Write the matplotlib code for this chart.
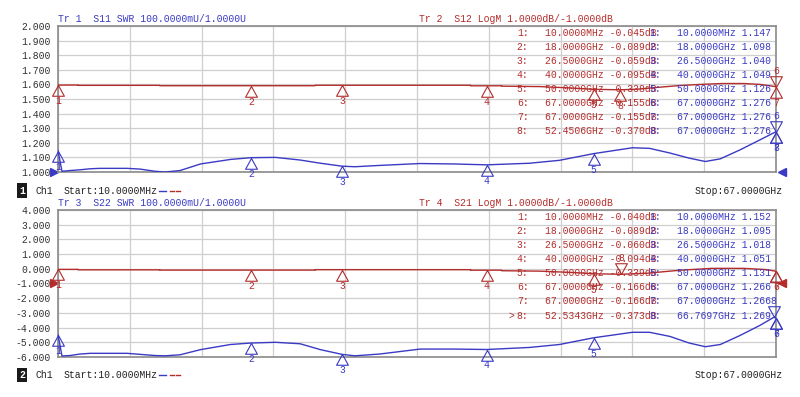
import numpy as np
import matplotlib
matplotlib.use('Agg')
import matplotlib.pyplot as plt
from matplotlib.path import Path

# ---- trace data (frequency in GHz) ----
s11_f = [0.01, 0.38, 1.13, 2.06, 3.0, 3.93, 6.45, 7.66, 9.06, 10.0, 11.4, 13.3, 16.1, 18.0,
         20.3, 22.6, 24.5, 26.5, 27.7, 30.0, 33.8, 37.0, 40.0, 44.0, 46.8, 50.0, 53.6,
         55.2, 57.1, 58.9, 60.4, 61.8, 63.6, 65.5, 67.0]
s11_swr = [1.147, 1.005, 1.010, 1.015, 1.022, 1.025, 1.025, 1.020, 1.005, 1.000, 1.010, 1.055,
           1.086, 1.098, 1.100, 1.082, 1.060, 1.040, 1.036, 1.045, 1.058, 1.055, 1.049, 1.060,
           1.080, 1.126, 1.166, 1.162, 1.130, 1.095, 1.072, 1.090, 1.150, 1.220, 1.276]

s12_f = [0.01, 1.9, 1.9, 9.5, 9.5, 18.0, 24.0, 24.0, 38.5, 38.5, 41.4, 41.4, 45.0, 48.0,
         50.0, 52.45, 54.0, 56.0, 58.0, 60.0, 62.0, 64.0, 65.5, 67.0]
s12_db = [-0.045, -0.045, -0.065, -0.065, -0.089, -0.089, -0.089, -0.059, -0.059, -0.095,
          -0.095, -0.120, -0.150, -0.250, -0.338, -0.370, -0.330, -0.200, -0.080, 0.000,
          0.060, 0.060, 0.000, -0.155]

s22_f = [0.01, 0.38, 1.13, 2.06, 3.0, 3.93, 6.45, 7.66, 9.06, 10.0, 11.4, 13.3, 16.1, 18.0,
         20.3, 22.6, 24.5, 26.5, 27.7, 30.0, 33.8, 37.0, 40.0, 44.0, 46.8, 50.0, 53.6,
         55.2, 57.1, 58.9, 60.4, 61.8, 63.6, 65.5, 66.77, 67.0]
s22_swr = [1.152, 1.007, 1.010, 1.020, 1.025, 1.025, 1.025, 1.018, 1.010, 1.008, 1.015, 1.050,
           1.085, 1.095, 1.100, 1.090, 1.050, 1.018, 1.008, 1.020, 1.054, 1.054, 1.051, 1.065,
           1.085, 1.131, 1.168, 1.168, 1.140, 1.095, 1.070, 1.085, 1.145, 1.215, 1.269, 1.266]

s21_f = [0.01, 1.9, 1.9, 9.5, 9.5, 18.0, 24.0, 24.0, 38.5, 38.5, 41.4, 41.4, 45.0, 48.0,
         50.0, 52.53, 55.0, 58.0, 61.0, 64.0, 66.0, 67.0]
s21_db = [-0.040, -0.040, -0.070, -0.070, -0.089, -0.089, -0.089, -0.060, -0.060, -0.094,
          -0.094, -0.130, -0.160, -0.250, -0.339, -0.373, -0.300, -0.100, 0.030, 0.030,
          -0.050, -0.166]

# ---- marker readouts ----
s12_mk_f = [0.01, 18.0, 26.5, 40.0, 50.0, 67.0, 67.0, 52.4506]
s12_mk_v = [-0.045, -0.089, -0.059, -0.095, -0.338, -0.155, -0.155, -0.370]
s11_mk_f = [0.01, 18.0, 26.5, 40.0, 50.0, 67.0, 67.0, 67.0]
s11_mk_v = [1.147, 1.098, 1.040, 1.049, 1.126, 1.276, 1.276, 1.276]
s21_mk_f = [0.01, 18.0, 26.5, 40.0, 50.0, 67.0, 67.0, 52.5343]
s21_mk_v = [-0.040, -0.089, -0.060, -0.094, -0.339, -0.166, -0.166, -0.373]
s22_mk_f = [0.01, 18.0, 26.5, 40.0, 50.0, 67.0, 67.0, 66.7697]
s22_mk_v = [1.152, 1.095, 1.018, 1.051, 1.131, 1.266, 1.266, 1.269]

BLUE = '#3a3ac4'
RED = '#b42c2c'
FONT = 'Liberation Mono'
FS = 7.0

W, H = 800, 397
fig = plt.figure(figsize=(W / 100, H / 100), dpi=100)
fig.patch.set_facecolor('white')

tri_up = Path([(0, 0), (-0.55, -1), (0.55, -1), (0, 0)])
tri_dn = Path([(0, 0), (-0.55, 1), (0.55, 1), (0, 0)])


def fmt_freq(f):
    if f < 1:
        return '%.4fMHz' % (f * 1000)
    return '%.4fGHz' % f


def make_axes(top_px, bot_px):
    ax = fig.add_axes([58 / W, 1 - bot_px / H, (776 - 58) / W, (bot_px - top_px) / H])
    ax.set_xlim(0.01, 67.0)
    ax.set_xticks(np.linspace(0.01, 67.0, 11))
    ax.tick_params(axis='x', length=0, labelbottom=False)
    ax.tick_params(axis='y', length=0, pad=5, labelsize=FS, labelcolor='#333333')
    ax.grid(True, color='#cfcfcf', lw=0.9)
    for s in ax.spines.values():
        s.set_color('#8a8a8a')
        s.set_linewidth(1.2)
    ax2 = ax.twinx()
    ax2.set_yticks([])
    for s in ax2.spines.values():
        s.set_visible(False)
    return ax, ax2


def draw_markers(ax, fs, vs, color, down):
    for i, (f, v) in enumerate(zip(fs, vs)):
        n = str(i + 1)
        if (i + 1) in down:
            ax.plot([f], [v], marker=tri_dn, ms=15.5, mfc='none', mec=color, mew=0.8,
                    clip_on=False, zorder=5)
            ax.annotate(n, (f, v), xytext=(0, 11.5), textcoords='offset points',
                        ha='center', va='center', color=color, fontsize=FS, family=FONT)
        else:
            ax.plot([f], [v], marker=tri_up, ms=15.5, mfc='none', mec=color, mew=0.8,
                    clip_on=False, zorder=5)
            ax.annotate(n, (f, v), xytext=(0, -11.5), textcoords='offset points',
                        ha='center', va='center', color=color, fontsize=FS, family=FONT)


def draw_table(ax, red_f, red_v, blue_f, blue_v, active=None):
    for i in range(8):
        y = 0.952 - i * 0.0957
        lbl = '%d:' % (i + 1)
        if active == i + 1:
            ax.text(0.628, y, '>', transform=ax.transAxes, color=RED, fontsize=FS,
                    family=FONT, va='center', zorder=6)
        ax.text(0.639, y, lbl, transform=ax.transAxes, color=RED, fontsize=FS,
                family=FONT, va='center', zorder=6)
        ax.text(0.678, y, '%s %.3fdB' % (fmt_freq(red_f[i]), red_v[i]),
                transform=ax.transAxes, color=RED, fontsize=FS, family=FONT,
                va='center', zorder=6)
        ax.text(0.824, y, lbl, transform=ax.transAxes, color=BLUE, fontsize=FS,
                family=FONT, va='center', zorder=6)
        ax.text(0.862, y, '%s %.3f' % (fmt_freq(blue_f[i]), blue_v[i]),
                transform=ax.transAxes, color=BLUE, fontsize=FS, family=FONT,
                va='center', zorder=6)


# ---------------- top panel: S11 SWR / S12 LogM ----------------
ax, ax2 = make_axes(26, 172)
ax.set_ylim(1.0, 2.0)
ax.set_yticks(np.arange(1.0, 2.001, 0.1))
ax.set_yticklabels(['%.3f' % v for v in np.arange(1.0, 2.001, 0.1)], family=FONT)
ax2.set_ylim(-6, 4)

ax.plot(s11_f, s11_swr, color=BLUE, lw=1.0, zorder=3)
ax2.plot(s12_f, s12_db, color=RED, lw=1.0, zorder=3)
draw_markers(ax, s11_mk_f, s11_mk_v, BLUE, down={6})
draw_markers(ax2, s12_mk_f, s12_mk_v, RED, down={6})
draw_table(ax2, s12_mk_f, s12_mk_v, s11_mk_f, s11_mk_v)

ax.plot([-0.005], [1.0], marker='>', ms=6, color=BLUE, clip_on=False,
        transform=ax.get_yaxis_transform())
ax.plot([1.008], [1.0], marker='<', ms=6, color=BLUE, clip_on=False,
        transform=ax.get_yaxis_transform())

ax.text(0.0, 1.012, 'Tr 1  S11 SWR 100.0000mU/1.0000U', transform=ax.transAxes,
        color=BLUE, fontsize=FS, family=FONT, va='bottom')
ax.text(0.503, 1.012, 'Tr 2  S12 LogM 1.0000dB/-1.0000dB', transform=ax.transAxes,
        color=RED, fontsize=FS, family=FONT, va='bottom')

# ---------------- bottom panel: S22 SWR / S21 LogM ----------------
bx, bx2 = make_axes(210, 357)
bx.set_ylim(-6, 4)
bx.set_yticks(np.arange(-6, 4.01, 1))
bx.set_yticklabels(['%.3f' % v for v in np.arange(-6, 4.01, 1)], family=FONT)
bx2.set_ylim(1.0, 2.0)

bx2.plot(s22_f, s22_swr, color=BLUE, lw=1.0, zorder=3)
bx.plot(s21_f, s21_db, color=RED, lw=1.0, zorder=3)
draw_markers(bx2, s22_mk_f, s22_mk_v, BLUE, down={8})
draw_markers(bx, s21_mk_f, s21_mk_v, RED, down={8})
draw_table(bx2, s21_mk_f, s21_mk_v, s22_mk_f, s22_mk_v, active=8)

bx.plot([-0.005], [-1.0], marker='>', ms=6, color=RED, clip_on=False,
        transform=bx.get_yaxis_transform())
bx.plot([1.008], [-1.0], marker='<', ms=6, color=RED, clip_on=False,
        transform=bx.get_yaxis_transform())

bx.text(0.0, 1.012, 'Tr 3  S22 SWR 100.0000mU/1.0000U', transform=bx.transAxes,
        color=BLUE, fontsize=FS, family=FONT, va='bottom')
bx.text(0.503, 1.012, 'Tr 4  S21 LogM 1.0000dB/-1.0000dB', transform=bx.transAxes,
        color=RED, fontsize=FS, family=FONT, va='bottom')

# ---------------- channel status lines ----------------
for num, ypx in [('1', 190.5), ('2', 375)]:
    yy = 1 - ypx / H
    fig.text(22 / W, yy, num, color='white', fontsize=FS, family=FONT, weight='bold',
             ha='center', va='center',
             bbox=dict(boxstyle='square,pad=0.25', fc='#1a1a1a', ec='none'))
    fig.text(35 / W, yy, 'Ch1', color='#222222', fontsize=FS, family=FONT, va='center')
    fig.text(64 / W, yy, 'Start:10.0000MHz', color='#222222', fontsize=FS, family=FONT,
             va='center')
    fig.lines.append(plt.Line2D([159 / W, 166 / W], [yy, yy], color=BLUE, lw=1.0,
                                transform=fig.transFigure))
    fig.lines.append(plt.Line2D([170 / W, 174 / W], [yy, yy], color=RED, lw=1.0,
                                transform=fig.transFigure))
    fig.lines.append(plt.Line2D([176 / W, 180 / W], [yy, yy], color=RED, lw=1.0,
                                transform=fig.transFigure))
    fig.text(783 / W, yy, 'Stop:67.0000GHz', color='#222222', fontsize=FS, family=FONT,
             ha='right', va='center')

fig.savefig('out.png', dpi=100, facecolor='white')
